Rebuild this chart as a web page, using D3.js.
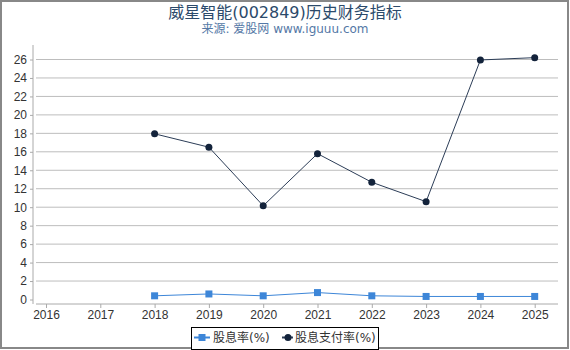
<!DOCTYPE html>
<html>
<head>
<meta charset="utf-8">
<script src="https://cdn.jsdelivr.net/npm/d3@7"></script>
<style>
  body { margin: 0; background: #fff; }
  svg { display: block; font-family: "DejaVu Sans", "Noto Sans CJK SC", sans-serif; }
</style>
</head>
<body>
<div id="chart"></div>
<script>
// data
const years = [2016, 2017, 2018, 2019, 2020, 2021, 2022, 2023, 2024, 2025];
const dividendYield = [null, null, 0.4, 0.6, 0.4, 0.75, 0.4, 0.33, 0.33, 0.33];
const payoutRatio = [null, null, 17.95, 16.5, 10.15, 15.8, 12.7, 10.6, 25.95, 26.2];
const yTicks = [0, 2, 4, 6, 8, 10, 12, 14, 16, 18, 20, 22, 24, 26];
const seriesNames = ["股息率(%)", "股息支付率(%)"];

const width = 570, height = 350;

const svg = d3.select("#chart")
  .append("svg")
    .attr("width", width)
    .attr("height", height);

// outer frame
svg.append("rect")
  .attr("x", 1).attr("y", 1)
  .attr("width", 567).attr("height", 347)
  .attr("fill", "none")
  .attr("stroke", "#888")
  .attr("stroke-width", 2);

// titles
svg.append("text")
  .attr("x", 285).attr("y", 18)
  .attr("text-anchor", "middle")
  .style("font-size", "16px")
  .style("fill", "#2b4a6b")
  .text("威星智能(002849)历史财务指标");

svg.append("text")
  .attr("x", 285).attr("y", 33)
  .attr("text-anchor", "middle")
  .style("font-size", "12px")
  .style("fill", "#5478a6")
  .text("来源: 爱股网 www.iguuu.com");

const x = d3.scaleLinear().domain([2016, 2025]).range([46, 534.7]);
const y = d3.scaleLinear().domain([0, 26]).range([299.5, 59.5]);

const plotLeft = 33, plotRight = 558, axisY = 304, plotTop = 45;

// gridlines (no line at 0)
svg.selectAll(".grid")
  .data(yTicks.filter(d => d > 0))
  .join("line")
    .attr("class", "grid")
    .attr("x1", plotLeft + 3).attr("x2", plotRight)
    .attr("y1", d => y(d)).attr("y2", d => y(d))
    .attr("stroke", "#bdbdbd")
    .attr("stroke-width", 1);

// y axis
const yAxis = svg.append("g")
  .attr("transform", `translate(${plotLeft},0)`)
  .call(d3.axisLeft(y).tickValues(yTicks).tickSize(3).tickPadding(3));
yAxis.select(".domain").remove();
yAxis.append("line")
  .attr("x1", 0).attr("x2", 0)
  .attr("y1", plotTop).attr("y2", axisY)
  .attr("stroke", "#aaa");
yAxis.selectAll(".tick line").attr("stroke", "#aaa");
yAxis.selectAll(".tick text")
  .style("font-size", "12px")
  .style("fill", "#333")
  .attr("font-family", null);

// x axis
const xAxis = svg.append("g")
  .attr("transform", `translate(0,${axisY})`)
  .call(d3.axisBottom(x).tickValues(years).tickFormat(d3.format("d")).tickSize(4).tickPadding(2));
xAxis.select(".domain").remove();
xAxis.append("line")
  .attr("x1", plotLeft + 3).attr("x2", plotRight)
  .attr("y1", 0).attr("y2", 0)
  .attr("stroke", "#aaa");
xAxis.selectAll(".tick line").attr("stroke", "#aaa");
xAxis.selectAll(".tick text")
  .style("font-size", "12px")
  .style("fill", "#333")
  .attr("font-family", null);

const line = d3.line()
  .defined(d => d[1] != null)
  .x(d => x(d[0]))
  .y(d => y(d[1]));

const yieldData = years.map((yr, i) => [yr, dividendYield[i]]);
const payoutData = years.map((yr, i) => [yr, payoutRatio[i]]);

// dividend yield
svg.append("path")
  .datum(yieldData)
  .attr("d", line)
  .attr("fill", "none")
  .attr("stroke", "#3d86d8")
  .attr("stroke-width", 1);

svg.selectAll(".sq")
  .data(yieldData.filter(d => d[1] != null))
  .join("rect")
    .attr("class", "sq")
    .attr("x", d => x(d[0]) - 3.5)
    .attr("y", d => y(d[1]) - 3.5)
    .attr("width", 7).attr("height", 7)
    .attr("fill", "#3d86d8");

// payout ratio
svg.append("path")
  .datum(payoutData)
  .attr("d", line)
  .attr("fill", "none")
  .attr("stroke", "#2c3d57")
  .attr("stroke-width", 1);

svg.selectAll(".dot")
  .data(payoutData.filter(d => d[1] != null))
  .join("circle")
    .attr("class", "dot")
    .attr("cx", d => x(d[0]))
    .attr("cy", d => y(d[1]))
    .attr("r", 3.5)
    .attr("fill", "#13233b");

// legend
const legend = svg.append("g");
legend.append("rect")
  .attr("x", 191.5).attr("y", 327.5)
  .attr("width", 187).attr("height", 22)
  .attr("fill", "#fff")
  .attr("stroke", "#000")
  .attr("stroke-width", 1);

legend.append("line")
  .attr("x1", 194).attr("x2", 210).attr("y1", 337.5).attr("y2", 337.5)
  .attr("stroke", "#3d86d8").attr("stroke-width", 2);
legend.append("rect")
  .attr("x", 198.5).attr("y", 334).attr("width", 7).attr("height", 7)
  .attr("fill", "#3d86d8");
legend.append("text")
  .attr("x", 213).attr("y", 342)
  .style("font-size", "12px").style("fill", "#333")
  .text(seriesNames[0]);

legend.append("line")
  .attr("x1", 282).attr("x2", 293).attr("y1", 337.5).attr("y2", 337.5)
  .attr("stroke", "#2c3d57").attr("stroke-width", 2);
legend.append("circle")
  .attr("cx", 288).attr("cy", 337.5).attr("r", 3.5)
  .attr("fill", "#13233b");
legend.append("text")
  .attr("x", 295).attr("y", 342)
  .style("font-size", "12px").style("fill", "#333")
  .text(seriesNames[1]);
</script>
</body>
</html>
